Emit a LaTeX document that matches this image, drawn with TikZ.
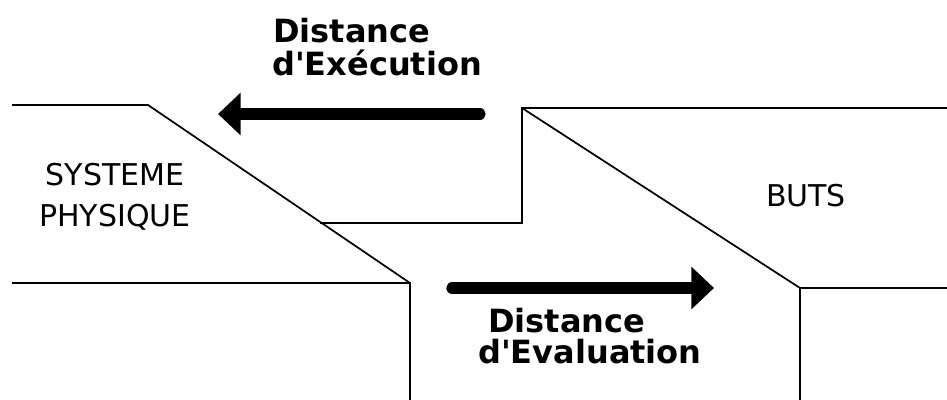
\documentclass[tikz,border=0pt]{standalone}
\usepackage{fontspec}
\setmainfont{DejaVu Sans}
\usetikzlibrary{arrows.meta}

\begin{document}
\begin{tikzpicture}[x=0.75pt, y=-0.75pt,
    edge/.style={line width=1.9pt, line cap=rect},
    slope/.style={line width=1.3pt},
    bigarrow/.style={line width=8.5pt, line cap=round, -{Triangle[length=17pt, width=31pt]}},
    zone/.style={font=\fontsize{22.5}{31}\selectfont, align=center, inner sep=0pt},
    gap/.style={font=\fontsize{24}{28}\selectfont\bfseries, inner sep=0pt, anchor=base west}]
    \useasboundingbox (0,0) rectangle (947,400);

    % Corners of the left block (systeme physique)
    \coordinate (sp-top) at (13,105);
    \coordinate (sp-edge) at (148,105);
    \coordinate (sp-low) at (13,283);
    \coordinate (sp-foot) at (410,283);
    \coordinate (sp-base) at (410,400);
    \coordinate (ledge) at (321,223);

    % Corners of the right block (buts)
    \coordinate (b-step) at (522,223);
    \coordinate (b-corner) at (522,108);
    \coordinate (b-top) at (947,108);
    \coordinate (b-foot) at (800,288);
    \coordinate (b-low) at (947,288);
    \coordinate (b-base) at (800,400);

    % Draw the outlines
    \draw[edge] (sp-top) -- (sp-edge);
    \draw[slope] (sp-edge) -- (sp-foot);
    \draw[edge] (sp-low) -- (sp-foot) -- (sp-base);
    \draw[edge] (ledge) -- (b-step) -- (b-corner) -- (b-top);
    \draw[slope] (b-corner) -- (b-foot);
    \draw[edge] (b-low) -- (b-foot) -- (b-base);

    % Block names
    \node[zone] (systeme) at (115,197) {SYSTEME\\PHYSIQUE};
    \node[zone] (buts) at (806,196) {BUTS};

    % Draw the two distances
    \coordinate (exec-tail) at (480,114);
    \coordinate (exec-tip) at (218,114);
    \draw[bigarrow] (exec-tail) -- (exec-tip);
    \node[gap] (exec-a) at (273,42) {Distance};
    \node[gap] (exec-b) at (272,75) {d\textquotesingle Exécution};

    \coordinate (eval-tail) at (452,288);
    \coordinate (eval-tip) at (714,288);
    \draw[bigarrow] (eval-tail) -- (eval-tip);
    \node[gap] (eval-a) at (488,332) {Distance};
    \node[gap] (eval-b) at (478,363) {d\textquotesingle Evaluation};
\end{tikzpicture}
\end{document}
